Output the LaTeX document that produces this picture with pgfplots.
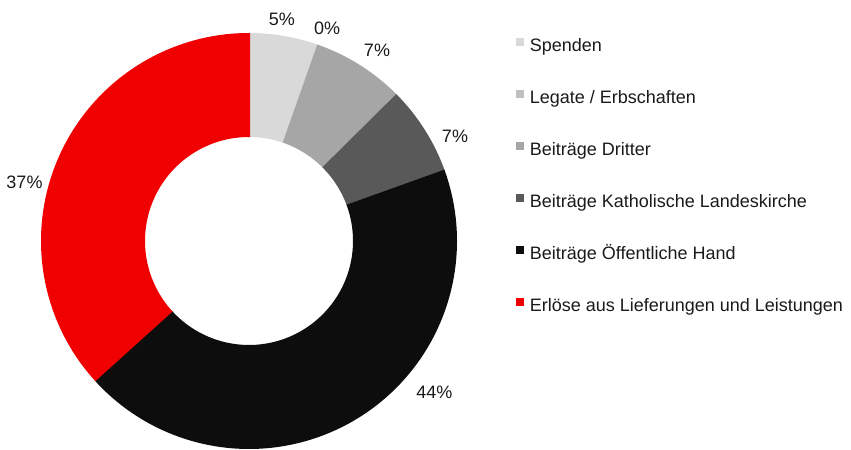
\documentclass[border=0pt]{standalone}
\usepackage{pgfplots}
\pgfplotsset{compat=1.18}
\usepackage{pgfplotstable}
\usepackage{fontspec}
\setmainfont{Liberation Sans}
\definecolor{cSpend}{HTML}{D9D9D9}
\definecolor{cLegate}{HTML}{BFBFBF}
\definecolor{cDritter}{HTML}{A6A6A6}
\definecolor{cKath}{HTML}{595959}
\definecolor{cOeff}{HTML}{0D0D0D}
\definecolor{cErl}{HTML}{F00000}
\definecolor{txt}{HTML}{1A1A1A}

% share of each category in percent, clockwise from the top
\pgfplotstableread[col sep=comma]{
share,col
5.3,cSpend
0,cLegate
7.2,cDritter
6.9,cKath
43.8,cOeff
36.8,cErl
}\shares

\newcommand{\lblfont}{\fontsize{18bp}{21bp}\selectfont}

\begin{document}
\begin{tikzpicture}
\begin{axis}[
  scale only axis,
  width=851bp, height=450bp,
  xmin=0, xmax=851, ymin=0, ymax=450,
  hide axis,
  clip=false,
  legend style={at={(axis cs:516,411.5)}, anchor=north west, draw=none, fill=none,
    inner sep=0pt, outer sep=0pt, font=\lblfont, text=txt,
    row sep=34.6bp, column sep=5.8bp,
    nodes={inner sep=0pt, text height=12.7bp, text depth=4bp}},
  legend cell align=left,
  legend image code/.code={\fill[#1,draw=none] (0bp,1bp) rectangle (8bp,9bp);},
]
\xdef\cum{0}
\pgfplotsforeachungrouped \i in {0,...,5}{%
  \pgfplotstablegetelem{\i}{share}\of\shares \let\myS\pgfplotsretval
  \pgfplotstablegetelem{\i}{col}\of\shares \let\myCol\pgfplotsretval
  \pgfmathsetmacro\myA{90-3.6*\cum}%
  \pgfmathsetmacro\cumnew{\cum+\myS}\xdef\cum{\cumnew}%
  \pgfmathsetmacro\myB{90-3.6*\cum-0.4}%
  \ifdim\myS pt>0pt
    \edef\tmp{\noexpand\addplot[forget plot, draw=\myCol, line width=104bp, domain=\myB:\myA, samples=150, no marks] ({249+156*cos(x)},{209+156*sin(x)});}%
    \tmp
  \fi
}
\addlegendimage{fill=cSpend}\addlegendentry{Spenden}
\addlegendimage{fill=cLegate}\addlegendentry{Legate / Erbschaften}
\addlegendimage{fill=cDritter}\addlegendentry{Beiträge Dritter}
\addlegendimage{fill=cKath}\addlegendentry{Beiträge Katholische Landeskirche}
\addlegendimage{fill=cOeff}\addlegendentry{Beiträge Öffentliche Hand}
\addlegendimage{fill=cErl}\addlegendentry{Erlöse aus Lieferungen und Leistungen}

\node[font=\lblfont, text=txt] at (axis cs:281.8,430.7) {5\%};
\node[font=\lblfont, text=txt] at (axis cs:327.2,421.7) {0\%};
\node[font=\lblfont, text=txt] at (axis cs:377,400) {7\%};
\node[font=\lblfont, text=txt] at (axis cs:455,313.7) {7\%};
\node[font=\lblfont, text=txt] at (axis cs:434.3,57.3) {44\%};
\node[font=\lblfont, text=txt] at (axis cs:24.5,268) {37\%};
\end{axis}
\pgfresetboundingbox
\path (current axis.south west) rectangle (current axis.north east);
\end{tikzpicture}
\end{document}
